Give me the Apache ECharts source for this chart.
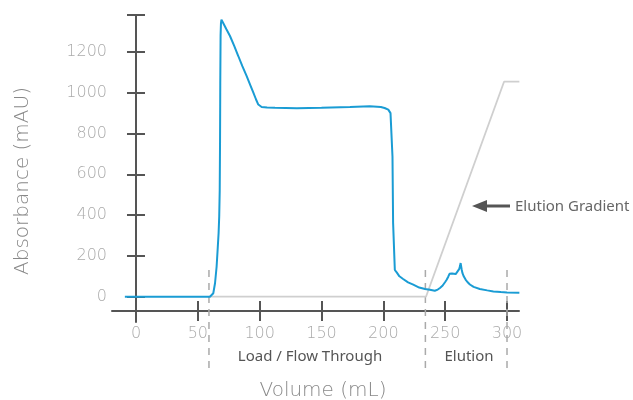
<!DOCTYPE html>
<html>
<head>
<meta charset="utf-8">
<script src="https://cdn.jsdelivr.net/npm/echarts@6/dist/echarts.min.js"></script>
<style>
html,body{margin:0;padding:0;background:#fff;}
#c{width:633px;height:400px;}
</style>
</head>
<body>
<div id="c"></div>
<script>
// ---- data ----
const absorbanceVolume = [-9, 59.8, 61, 62.5, 63.9, 65.2, 66, 66.8, 67.3, 67.7, 67.95, 68.15, 68.4, 68.7, 69.1, 69.6, 70.4, 73, 76, 79.5, 82.7, 86, 89.5, 92.5, 94.9, 97, 98.9, 100.3, 101.6, 106, 112.4, 130, 150, 173, 189, 198, 201, 204, 205.8, 207.4, 207.9, 209.3, 210.8, 213, 216, 220, 224.2, 229, 233.7, 237.7, 241.6, 244, 245.8, 248, 250, 251.2, 252.5, 253.5, 254.5, 255.5, 257, 258.5, 260, 261.3, 262, 262.5, 263.3, 264, 265, 266.5, 268, 270, 273, 278, 284, 289, 295, 300, 310];
const absorbanceValue  = [0, 0, 5, 17, 66, 148, 229, 312, 394, 520, 750, 1050, 1280, 1340, 1358, 1360, 1343, 1312, 1278, 1228, 1180, 1130, 1081, 1036, 1000, 968, 942, 933, 930, 927, 926, 924, 926, 930, 934, 930, 925, 917, 900, 687, 362, 131, 119, 100, 87, 70, 59, 45, 38, 34, 29, 35, 43, 55, 72, 83, 98, 112, 121, 114, 110, 111, 119, 135, 150, 165, 135, 115, 100, 84, 72, 60, 48, 38, 31, 26, 23, 21, 19];
const gradientVolume = [59, 234.5, 297.6, 310];
const gradientValue  = [0, 0, 1054, 1054];
const phaseBoundaries = [59, 234, 300];
const xTickValues = [0, 50, 100, 150, 200, 250, 300];
const yTickValues = [0, 200, 400, 600, 800, 1000, 1200];
const phaseNames = ['Load / Flow Through', 'Elution'];

// ---- layout ----
const X_MIN = -19.4, X_MAX = 309.7;
const Y_MIN = -124, Y_MAX = 1381;
const DASH_TOP = 131, DASH_BOTTOM = -350;

const zip = (a, b) => a.map((v, i) => [v, b[i]]);

const axisColor = '#555';
const labelFont = '"DejaVu Sans", sans-serif';

function makeY(inside, main) {
  return {
    type: 'value', min: Y_MIN, max: Y_MAX, position: 'left', offset: -13,
    splitLine: { show: false },
    axisLine: { show: main, lineStyle: { color: axisColor, width: 2 } },
    axisTick: { show: true, inside: inside, length: 9, lineStyle: { color: axisColor, width: 2 },
      customValues: yTickValues.concat([Y_MAX]) },
    axisLabel: { show: main, margin: 18, color: '#aaa', fontFamily: labelFont, fontWeight: 200, fontSize: 16,
      customValues: yTickValues, formatter: v => String(v) }
  };
}
function makeX(inside, main) {
  return {
    type: 'value', min: X_MIN, max: X_MAX, position: 'bottom', offset: -11,
    splitLine: { show: false },
    axisLine: { show: main, onZero: false, lineStyle: { color: axisColor, width: 2 } },
    axisTick: { show: true, inside: inside, length: 10, lineStyle: { color: axisColor, width: 2 },
      customValues: xTickValues },
    axisLabel: { show: main, margin: 15, color: '#aaa', fontFamily: labelFont, fontWeight: 200, fontSize: 16,
      customValues: xTickValues, formatter: v => String(v) }
  };
}

const dashSeries = phaseBoundaries.map(b => ({
  type: 'line', xAxisIndex: 0, yAxisIndex: 0, clip: false, silent: true, symbol: 'none',
  data: [[b, DASH_TOP], [b, DASH_BOTTOM]],
  lineStyle: { color: '#aaa', width: 1.5, type: [7, 6] }, z: 1
}));

const chart = echarts.init(document.getElementById('c'), null, { renderer: 'canvas' });
chart.setOption({
  animation: false,
  backgroundColor: '#fff',
  grid: { left: 112, right: 114, top: 15, bottom: 78, containLabel: false },
  xAxis: [makeX(false, true), makeX(true, false)],
  yAxis: [makeY(false, true), makeY(true, false)],
  series: dashSeries.concat([
    { type: 'line', name: 'Elution Gradient', data: zip(gradientVolume, gradientValue), symbol: 'none',
      lineStyle: { color: '#cfcfcf', width: 1.8 }, z: 2, clip: false },
    { type: 'line', name: 'Absorbance', data: zip(absorbanceVolume, absorbanceValue), symbol: 'none',
      lineStyle: { color: '#1a9cd4', width: 2 }, z: 3, clip: false }
  ]),
  graphic: [
    { type: 'text', x: 23, y: 181, rotation: Math.PI / 2,
      style: { text: 'Absorbance (mAU)', fill: '#888', font: '200 20px ' + labelFont, align: 'center', verticalAlign: 'middle' } },
    { type: 'text', x: 323, y: 391,
      style: { text: 'Volume (mL)', fill: '#888', font: '200 20px ' + labelFont, align: 'center', verticalAlign: 'middle' } },
    { type: 'text', x: 310, y: 357,
      style: { text: phaseNames[0], fill: '#555', font: '15px "Noto Sans", sans-serif', align: 'center', verticalAlign: 'middle' } },
    { type: 'text', x: 469, y: 357,
      style: { text: phaseNames[1], fill: '#555', font: '15px "Noto Sans", sans-serif', align: 'center', verticalAlign: 'middle' } },
    { type: 'text', x: 515, y: 207,
      style: { text: 'Elution Gradient', fill: '#666', font: '15px "Noto Sans", sans-serif', align: 'left', verticalAlign: 'middle' } },
    { type: 'line', shape: { x1: 484, y1: 206, x2: 510, y2: 206 }, style: { stroke: '#555', lineWidth: 3 } },
    { type: 'polygon', shape: { points: [[472, 206], [487, 200], [487, 212]] }, style: { fill: '#555' } }
  ]
});
</script>
</body>
</html>
